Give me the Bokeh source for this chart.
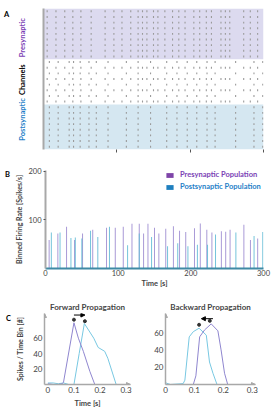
import math
from bokeh.plotting import figure
from bokeh.layouts import column, row
from bokeh.models import (Legend, LegendItem, Arrow, NormalHead, Range1d, FixedTicker)
from bokeh.core.properties import value
from bokeh.embed import file_html
from bokeh.resources import INLINE

FONT = "Lato"
PURPLE_TXT = "#7b3fb5"
BLUE_TXT = "#1f7fc8"
AX_GRAY = "#a8a8a8"

# ---------------- data ----------------
# Panel B: binned firing-rate spikes (time [s], rate [spikes/s])
pre_times = [5, 17, 29, 40, 51, 65, 84, 96, 107, 119, 129, 135, 141, 150, 156,
             165.5, 176, 184.5, 193, 205, 213, 222, 229, 242, 248, 254, 273, 282, 292]
pre_rates = [59, 72, 86, 59, 72, 80, 84, 84, 86, 92, 92, 72, 92, 84, 72,
             82, 87, 78, 75, 83, 93, 80, 74, 77, 76, 80, 90, 59, 62]
post_times = [8, 20, 35, 41, 50, 62, 72, 88, 113, 129, 146, 168, 182, 196, 209,
              223, 234, 262, 287, 299]
post_rates = [74, 74, 63, 64, 62, 78, 65, 86, 48, 72, 65, 46, 52, 46, 49,
              49, 70, 74, 67, 75]
t_max = 300

# Panel A: channel counts per group (bottom to top)
n_post_ch = 8
n_mid_ch = 8
n_pre_ch = 9
group_labels = ["Postsynaptic", "Channels", "Presynaptic"]

# Panel C: forward propagation
fwd_pre_t = [0, 0.02, 0.04, 0.055, 0.06, 0.10, 0.117, 0.136, 0.161, 0.18]
fwd_pre_v = [1, 0, 0, 1, 3, 80, 60, 43, 17, 0]
fwd_post_t = [0, 0.02, 0.04, 0.06, 0.08, 0.10, 0.12, 0.14, 0.176, 0.193, 0.218, 0.23, 0.262]
fwd_post_v = [2, 2, 1, 2, 0, 0, 40, 79, 60, 48, 43, 34, 0]
fwd_peak_t = [0.10, 0.142]
fwd_peak_v = [84, 82]
fwd_arrow_y = 90

# Panel C: backward propagation
bwd_post_t = [0, 0.017, 0.061, 0.067, 0.082, 0.096, 0.116, 0.141, 0.152, 0.164, 0.178]
bwd_post_v = [2, 0, 1, 5, 55, 61, 65, 57, 26, 13, 0]
bwd_pre_t = [0, 0.05, 0.096, 0.105, 0.118, 0.135, 0.158, 0.181, 0.192, 0.204, 0.215]
bwd_pre_v = [0, 0, 0, 10, 55, 63, 70, 62, 40, 13, 0]
bwd_peak_t = [0.116, 0.153]
bwd_peak_v = [69, 73.5]
bwd_arrow_y = 76
bwd_arrow_t = [0.164, 0.124]


def base_fig(**kw):
    p = figure(output_backend="svg", toolbar_location=None, **kw)
    p.outline_line_color = None
    p.xgrid.visible = False
    p.ygrid.visible = False
    p.background_fill_color = "white"
    p.border_fill_color = "white"
    return p


def label_fig(w, h):
    """Narrow strip holding panel letters / side labels (pixel coords, y down)."""
    p = figure(width=w, height=h, x_range=Range1d(0, w), y_range=Range1d(h, 0),
               x_axis_type=None, y_axis_type=None, min_border=0,
               output_backend="svg", toolbar_location=None)
    p.outline_line_color = None
    p.background_fill_color = "white"
    p.border_fill_color = "white"
    return p


def add_texts(p, xs, ys, texts, colors, angle, size):
    p.text(x=xs, y=ys, text=texts, text_color=colors, angle=angle,
           text_font=value(FONT), text_font_style="bold", text_font_size=size,
           text_align="center", text_baseline="middle")


# ---------------- Panel A ----------------
n_total = n_post_ch + n_mid_ch + n_pre_ch
A_H, A_TOP, A_BOT = 165, 8, 12
LAB_A_W = 41
pA = base_fig(width=275 - LAB_A_W, height=A_H, x_range=Range1d(0, t_max),
              y_range=Range1d(0, n_total),
              min_border_left=2, min_border_right=12, min_border_top=A_TOP, min_border_bottom=A_BOT)
b1 = n_post_ch
b2 = n_post_ch + n_mid_ch
pA.quad(left=[0, 0], right=[t_max, t_max], bottom=[0, b2], top=[b1, n_total],
        fill_color=["#d5e7f1", "#dcdaef"], line_color=None)

xs, y0s, y1s = [], [], []
for ch in range(n_total):
    if ch < b1:
        ts = post_times
    elif ch < b2:
        ts = pre_times if ch % 2 == 0 else post_times
    else:
        ts = pre_times
    for t in ts:
        xs.append(t)
        y0s.append(ch + 0.33)
        y1s.append(ch + 0.67)
pA.segment(x0=xs, y0=y0s, x1=xs, y1=y1s, line_color="#9a9a9a", line_width=1.1)

pA.yaxis.ticker = FixedTicker(ticks=[])
pA.yaxis.axis_line_color = AX_GRAY
pA.yaxis.axis_line_width = 2
pA.yaxis.major_tick_out = 0
pA.yaxis.major_label_standoff = 0
pA.xaxis.ticker = FixedTicker(ticks=[100, 200, 300])
pA.xaxis.major_label_overrides = {100: " ", 200: " ", 300: " "}
pA.xaxis.major_label_text_font_size = "4px"
pA.xaxis.axis_line_color = None
pA.xaxis.major_tick_out = 3
pA.xaxis.major_tick_in = 0
pA.xaxis.major_tick_line_color = "#555555"
pA.xaxis.minor_tick_line_color = None

labA = label_fig(LAB_A_W, A_H)
frame_h = A_H - A_TOP - A_BOT
centers = [b1 / 2, (b1 + b2) / 2, (b2 + n_total) / 2]
ys_px = [A_TOP + (n_total - c) * frame_h / n_total for c in centers]
add_texts(labA, [22, 22, 22], ys_px, group_labels, [BLUE_TXT, "black", PURPLE_TXT],
          math.pi / 2, "7.5px")
add_texts(labA, [6], [7], ["A"], ["black"], 0, "7.5px")

# ---------------- Panel B ----------------
LAB_B_W = 12
pB = base_fig(width=275 - LAB_B_W, height=125, x_range=Range1d(0, t_max), y_range=Range1d(0, 202),
              min_border_left=43 - LAB_B_W, min_border_right=12, min_border_top=5, min_border_bottom=18)
pB.vbar(x=pre_times, top=pre_rates, width=1.3, fill_color="#9a88cf", line_color=None, fill_alpha=0.9)
pB.vbar(x=post_times, top=post_rates, width=1.3, fill_color="#5cb9d4", line_color=None, fill_alpha=0.9)
# zero-height bars used only as legend swatches
leg_pre = pB.vbar(x=[pre_times[0]], top=[0], width=1, fill_color="#7e45a8", line_color=None)
leg_post = pB.vbar(x=[post_times[0]], top=[0], width=1, fill_color="#1f7fbf", line_color=None)

for r, lab, col, ly in [(leg_pre, "Presynaptic Population", PURPLE_TXT, 89),
                        (leg_post, "Postsynaptic Population", BLUE_TXT, 77)]:
    lg = Legend(items=[LegendItem(label=lab, renderers=[r])], location=(120, ly),
                padding=0, margin=0, border_line_color=None, background_fill_alpha=0,
                glyph_width=9, glyph_height=6, label_height=6, label_standoff=6,
                label_text_font=FONT, label_text_font_style="bold",
                label_text_font_size="7.5px", label_text_color=col)
    pB.add_layout(lg, "center")

pB.yaxis.ticker = FixedTicker(ticks=[100, 200])
pB.yaxis.axis_line_color = AX_GRAY
pB.yaxis.axis_line_width = 2
pB.yaxis.major_tick_out = 2
pB.yaxis.major_tick_in = 0
pB.yaxis.major_tick_line_color = "#555555"
pB.yaxis.minor_tick_line_color = None
pB.yaxis.major_label_standoff = 2
pB.yaxis.major_label_text_font = FONT
pB.yaxis.major_label_text_font_size = "7.5px"
pB.yaxis.axis_label = "Binned Firing Rate [Spikes/s]"
pB.yaxis.axis_label_text_font = FONT
pB.yaxis.axis_label_text_font_style = "bold"
pB.yaxis.axis_label_text_font_size = "7px"
pB.yaxis.axis_label_standoff = 2

pB.xaxis.ticker = FixedTicker(ticks=[0, 100, 200, 300])
pB.xaxis.axis_line_color = "#3f8aa5"
pB.xaxis.axis_line_width = 2
pB.xaxis.major_tick_out = 0
pB.xaxis.major_tick_in = 0
pB.xaxis.minor_tick_line_color = None
pB.xaxis.major_label_standoff = 1
pB.xaxis.major_label_text_font = FONT
pB.xaxis.major_label_text_font_size = "7.5px"
pB.xaxis.axis_label = "Time [s]"
pB.xaxis.axis_label_text_font = FONT
pB.xaxis.axis_label_text_font_style = "bold"
pB.xaxis.axis_label_text_font_size = "7.5px"
pB.xaxis.axis_label_standoff = 0

labB = label_fig(LAB_B_W, 125)
add_texts(labB, [7], [5], ["B"], ["black"], 0, "7.5px")


# ---------------- Panel C ----------------
def prop_fig(width, xr, yr, bl, br, bt, bb, title, title_off, ylabel, xlabel):
    p = base_fig(width=width, height=122, x_range=Range1d(*xr), y_range=Range1d(*yr),
                 min_border_left=bl, min_border_right=br, min_border_top=bt, min_border_bottom=bb)
    p.title.text = title
    p.title.text_font = FONT
    p.title.text_font_style = "bold"
    p.title.text_font_size = "8px"
    p.title.align = "center"
    p.title.offset = title_off
    p.title.standoff = 4
    for ax in (p.xaxis[0], p.yaxis[0]):
        ax.axis_line_color = AX_GRAY
        ax.axis_line_width = 1.5
        ax.major_tick_out = 0
        ax.major_tick_in = 0
        ax.minor_tick_line_color = None
        ax.major_label_text_font = FONT
        ax.major_label_text_font_size = "8px"
        ax.major_label_standoff = 2
    p.xaxis.ticker = FixedTicker(ticks=[0, 0.1, 0.2, 0.3])
    p.yaxis.ticker = FixedTicker(ticks=[20, 40, 60])
    if xlabel:
        p.xaxis.axis_label = xlabel
        p.xaxis.axis_label_text_font = FONT
        p.xaxis.axis_label_text_font_style = "bold"
        p.xaxis.axis_label_text_font_size = "7.5px"
        p.xaxis.axis_label_standoff = 3
    if ylabel:
        p.yaxis.axis_label = ylabel
        p.yaxis.axis_label_text_font = FONT
        p.yaxis.axis_label_text_font_style = "bold"
        p.yaxis.axis_label_text_font_size = "7px"
        p.yaxis.axis_label_standoff = 6
    # arrow heads on axes
    p.add_layout(Arrow(x_start=xr[0], y_start=0, x_end=xr[1], y_end=0,
                       line_color=None, end=NormalHead(size=4, fill_color=AX_GRAY, line_color=AX_GRAY)))
    p.add_layout(Arrow(x_start=xr[0], y_start=0, x_end=xr[0], y_end=yr[1],
                       line_color=None, end=NormalHead(size=4, fill_color=AX_GRAY, line_color=AX_GRAY)))
    return p


PUR_LINE = "#8f86cf"
BLU_LINE = "#78c8e2"
LAB_C_W = 13

fxr = (-0.013, 0.317)
pC1 = prop_fig(137 - LAB_C_W, fxr, (0, 92), 42 - LAB_C_W, 7, 23, 28, "Forward Propagation", 6,
               "Spikes / Time Bin [#]", "Time [s]")
pC1.line(fwd_post_t, fwd_post_v, line_color=BLU_LINE, line_width=1)
pC1.line(fwd_pre_t, fwd_pre_v, line_color=PUR_LINE, line_width=1)
pC1.scatter(fwd_peak_t, fwd_peak_v, size=3, color="#333333")
pC1.add_layout(Arrow(x_start=fwd_peak_t[0], y_start=fwd_arrow_y, x_end=fwd_peak_t[1], y_end=fwd_arrow_y,
                     line_color="black", line_width=1,
                     end=NormalHead(size=4, fill_color="black", line_color="black")))

labC = label_fig(LAB_C_W, 122)
add_texts(labC, [8], [9], ["C"], ["black"], 0, "7.5px")

bxr = (0, 0.311)
pC2 = prop_fig(138, bxr, (0, 82), 28, 20, 22, 28, "Backward Propagation", 5, None, None)
pC2.line(bwd_post_t, bwd_post_v, line_color=BLU_LINE, line_width=1)
pC2.line(bwd_pre_t, bwd_pre_v, line_color=PUR_LINE, line_width=1)
pC2.scatter(bwd_peak_t, bwd_peak_v, size=3, color="#333333")
pC2.add_layout(Arrow(x_start=bwd_arrow_t[0], y_start=bwd_arrow_y, x_end=bwd_arrow_t[1], y_end=bwd_arrow_y,
                     line_color="black", line_width=1,
                     end=NormalHead(size=4, fill_color="black", line_color="black")))

layout = column(row(labA, pA, spacing=0), row(labB, pB, spacing=0),
                row(labC, pC1, pC2, spacing=0), spacing=0)
html = file_html(layout, INLINE)
html = html.replace("</head>", "<style>html,body{margin:0;padding:0;}</style></head>", 1)
open("out.html", "w").write(html)
